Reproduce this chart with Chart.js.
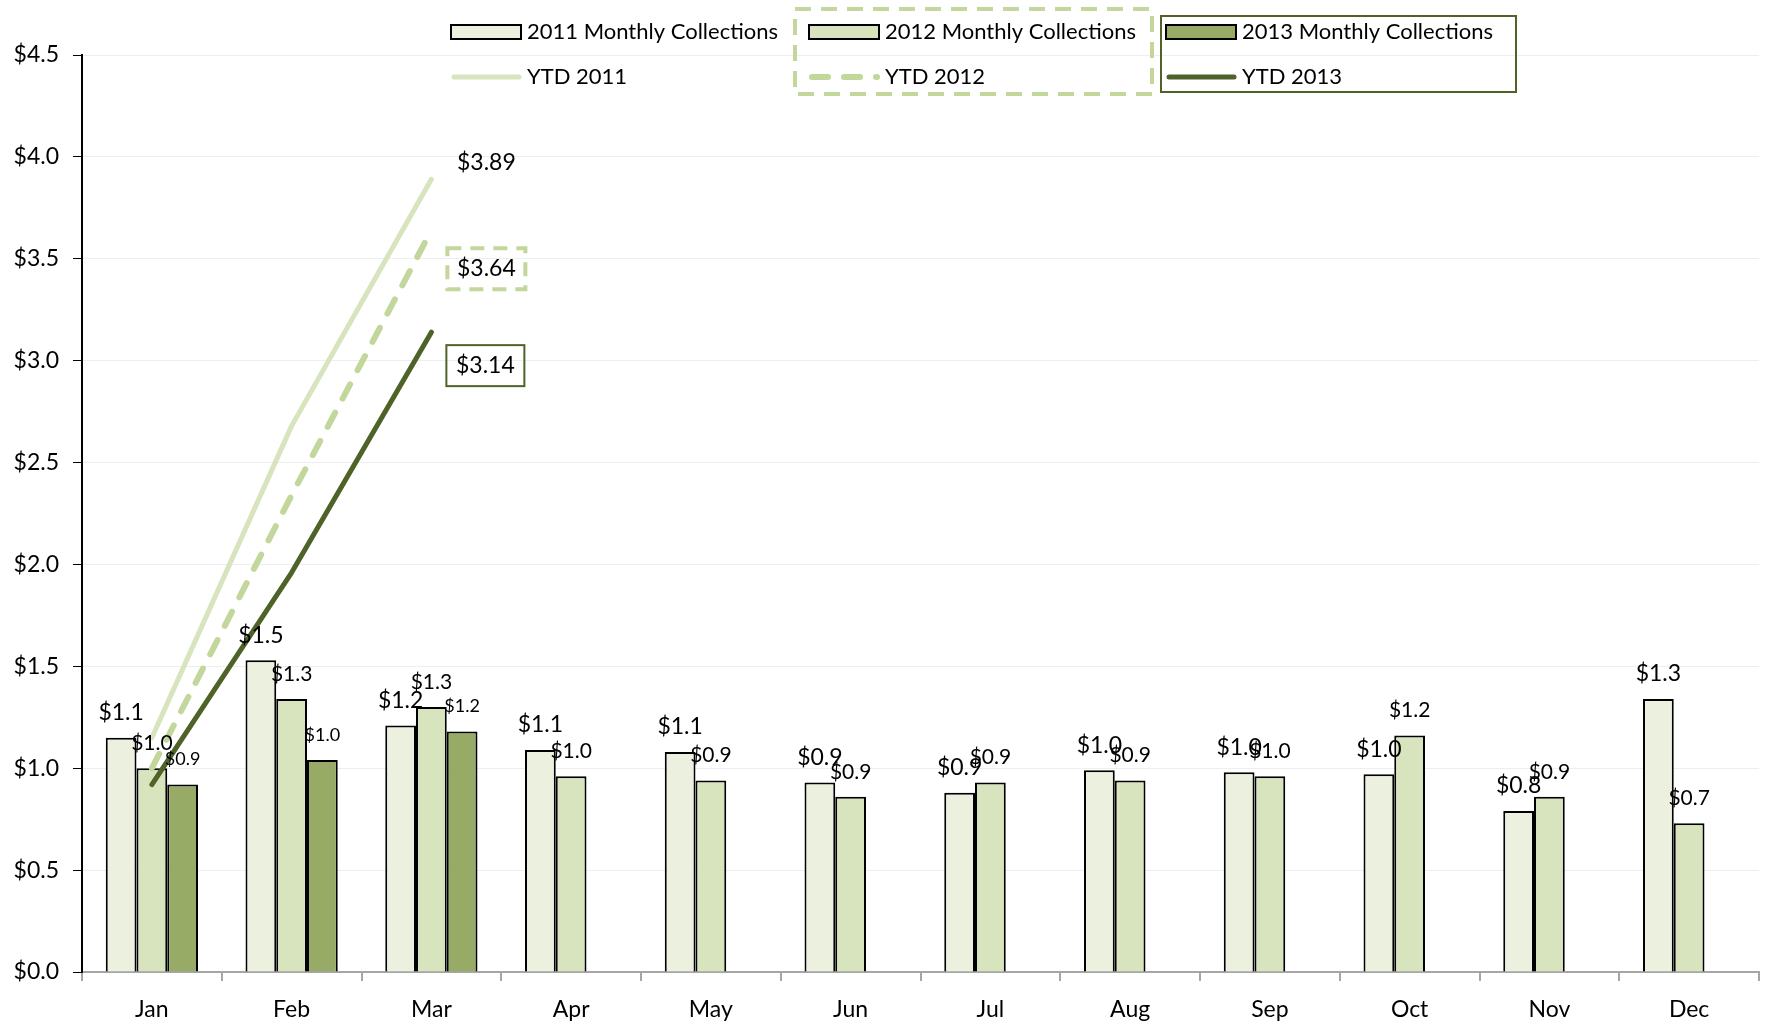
<!DOCTYPE html>
<html lang="en">
<head>
<meta charset="UTF-8">
<title>Monthly Collections</title>
<script src="https://cdn.jsdelivr.net/npm/chart.js"></script>
<style>
    body {
        margin: 0;
        background: #ffffff;
    }
    #chart {
        display: block;
    }
</style>
</head>
<body>
<canvas id="chart" width="1767" height="1030"></canvas>
<script>
    const months = ['Jan', 'Feb', 'Mar', 'Apr', 'May', 'Jun', 'Jul', 'Aug', 'Sep', 'Oct', 'Nov', 'Dec'];

    // monthly collections ($M)
    const collections2011 = [1.15, 1.53, 1.21, 1.09, 1.08, 0.93, 0.88, 0.99, 0.98, 0.97, 0.79, 1.34];
    const collections2012 = [1.00, 1.34, 1.30, 0.96, 0.94, 0.86, 0.93, 0.94, 0.96, 1.16, 0.86, 0.73];
    const collections2013 = [0.92, 1.04, 1.18, null, null, null, null, null, null, null, null, null];

    // year to date totals
    const ytd2011 = [1.15, 2.68, 3.89, null, null, null, null, null, null, null, null, null];
    const ytd2012 = [1.00, 2.34, 3.64, null, null, null, null, null, null, null, null, null];
    const ytd2013 = [0.92, 1.96, 3.14, null, null, null, null, null, null, null, null, null];

    const yTicks = [0, 0.5, 1.0, 1.5, 2.0, 2.5, 3.0, 3.5, 4.0, 4.5];

    const FONT = 'Lato, "Open Sans", sans-serif';
    const light = '#ebf1de';
    const mid = '#d7e4bd';
    const dash = '#c3d69b';
    const olive = '#97ab66';
    const dark = '#4f6228';

    // value labels above bars and at the end of the YTD lines
    const valueLabels = {
        id: 'valueLabels',
        afterDatasetsDraw(chart) {
            const ctx = chart.ctx;
            ctx.save();
            ctx.textAlign = 'center';
            ctx.textBaseline = 'middle';
            chart.data.datasets.forEach((ds, i) => {
                const meta = chart.getDatasetMeta(i);
                if (ds.type === 'bar') {
                    ctx.fillStyle = '#000';
                    ctx.font = ds.labelSize + 'px ' + FONT;
                    meta.data.forEach((el, j) => {
                        const v = ds.data[j];
                        if (v == null) return;
                        ctx.fillText('$' + v.toFixed(1), el.x, el.y - 25);
                    });
                } else {
                    let last = -1;
                    ds.data.forEach((v, j) => { if (v != null) last = j; });
                    if (last < 0) return;
                    const el = meta.data[last];
                    const cx = el.x + ds.endLabel.dx;
                    const cy = el.y + ds.endLabel.dy;
                    if (ds.endLabel.box) {
                        const b = ds.endLabel.box;
                        ctx.save();
                        ctx.strokeStyle = b.color;
                        ctx.lineWidth = b.width;
                        ctx.setLineDash(b.dash || []);
                        ctx.strokeRect(cx - 39, cy - 20, 78, 41);
                        ctx.restore();
                    }
                    ctx.fillStyle = '#000';
                    ctx.font = '23px ' + FONT;
                    ctx.fillText('$' + ds.data[last].toFixed(2), cx, cy);
                }
            });
            ctx.restore();
        }
    };

    // two-row legend with framed entries
    const legendBlock = {
        id: 'legendBlock',
        afterDraw(chart) {
            const ctx = chart.ctx;
            const cols = [451, 809, 1166];
            const bars = chart.data.datasets.filter(d => d.type === 'bar');
            const lines = chart.data.datasets.filter(d => d.type === 'line');
            ctx.save();

            // frames around second and third columns
            ctx.strokeStyle = dash;
            ctx.lineWidth = 4;
            ctx.setLineDash([16, 10]);
            ctx.strokeRect(795, 9, 357, 85);
            ctx.setLineDash([]);
            ctx.strokeStyle = dark;
            ctx.lineWidth = 2;
            ctx.strokeRect(1161, 16, 355, 76);

            ctx.font = '22px ' + FONT;
            ctx.textBaseline = 'middle';
            ctx.textAlign = 'left';
            bars.forEach((ds, i) => {
                const x = cols[i];
                ctx.fillStyle = ds.backgroundColor;
                ctx.fillRect(x, 25, 70, 14);
                ctx.strokeStyle = '#000';
                ctx.lineWidth = 2;
                ctx.strokeRect(x, 25, 70, 14);
                ctx.fillStyle = '#000';
                ctx.fillText(ds.label, x + 76, 32);
            });
            lines.forEach((ds, i) => {
                const x = cols[i];
                ctx.strokeStyle = ds.borderColor;
                ctx.lineWidth = ds.borderWidth;
                ctx.lineCap = 'round';
                ctx.setLineDash(ds.borderDash || []);
                ctx.beginPath();
                ctx.moveTo(x + 3, 77);
                ctx.lineTo(x + 68, 77);
                ctx.stroke();
                ctx.setLineDash([]);
                ctx.fillStyle = '#000';
                ctx.fillText(ds.label, x + 76, 77);
            });
            ctx.restore();
        }
    };

    const barStyle = {
        type: 'bar',
        borderColor: '#000',
        borderWidth: 2,
        borderSkipped: 'bottom',
        barPercentage: 1.0,
        categoryPercentage: 0.66,
        order: 1
    };

    const lineStyle = {
        type: 'line',
        fill: false,
        tension: 0,
        pointRadius: 0,
        borderCapStyle: 'round',
        borderJoinStyle: 'round',
        spanGaps: false,
        order: 0
    };

    new Chart(document.getElementById('chart'), {
        data: {
            labels: months,
            datasets: [
                Object.assign({}, barStyle, { label: '2011 Monthly Collections', data: collections2011, backgroundColor: light, labelSize: 23 }),
                Object.assign({}, barStyle, { label: '2012 Monthly Collections', data: collections2012, backgroundColor: mid, labelSize: 21 }),
                Object.assign({}, barStyle, { label: '2013 Monthly Collections', data: collections2013, backgroundColor: olive, labelSize: 18 }),
                Object.assign({}, lineStyle, { label: 'YTD 2011', data: ytd2011, borderColor: mid, borderWidth: 5,
                    endLabel: { dx: 55, dy: -17 } }),
                Object.assign({}, lineStyle, { label: 'YTD 2012', data: ytd2012, borderColor: dash, borderWidth: 6, borderDash: [16, 16],
                    endLabel: { dx: 55, dy: 38, box: { color: dash, width: 4, dash: [14, 9] } } }),
                Object.assign({}, lineStyle, { label: 'YTD 2013', data: ytd2013, borderColor: dark, borderWidth: 5,
                    endLabel: { dx: 54, dy: 33, box: { color: dark, width: 2 } } })
            ]
        },
        options: {
            responsive: false,
            devicePixelRatio: 1,
            animation: false,
            layout: { padding: { top: 55, left: 0, right: 8, bottom: 0 } },
            plugins: {
                legend: { display: false },
                tooltip: { enabled: false }
            },
            scales: {
                x: {
                    grid: { offset: true, drawOnChartArea: false, color: '#a6a6a6', lineWidth: 2, tickLength: 9 },
                    border: { color: '#a6a6a6', width: 2 },
                    ticks: { color: '#000', font: { family: FONT, size: 23 }, padding: 15, maxRotation: 0 },
                    afterFit(scale) { scale.height = 58; }
                },
                y: {
                    min: 0,
                    max: 4.5,
                    afterBuildTicks(scale) { scale.ticks = yTicks.map(v => ({ value: v })); },
                    grid: { color: '#eeeeee', lineWidth: 1, tickLength: 9, tickColor: '#000' },
                    border: { color: '#000', width: 2 },
                    ticks: {
                        color: '#000',
                        font: { family: FONT, size: 23 },
                        padding: 14,
                        callback: v => '$' + Number(v).toFixed(1)
                    },
                    afterFit(scale) { scale.width = 82; }
                }
            }
        },
        plugins: [valueLabels, legendBlock]
    });
</script>
</body>
</html>
